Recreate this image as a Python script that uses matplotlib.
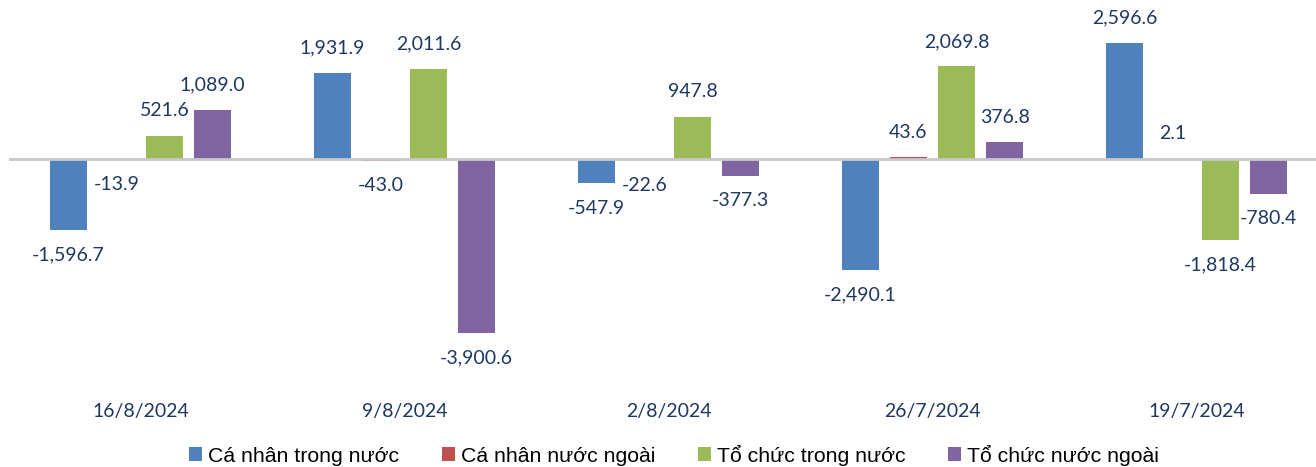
import matplotlib
matplotlib.use("Agg")
import matplotlib.pyplot as plt
import numpy as np

# Weekly net trading value by investor group
weeks = ["16/8/2024", "9/8/2024", "2/8/2024", "26/7/2024", "19/7/2024"]
series_names = ["Cá nhân trong nước", "Cá nhân nước ngoài",
                "Tổ chức trong nước", "Tổ chức nước ngoài"]
ca_nhan_trong_nuoc = [-1596.7, 1931.9, -547.9, -2490.1, 2596.6]
ca_nhan_nuoc_ngoai = [-13.9, -43.0, -22.6, 43.6, 2.1]
to_chuc_trong_nuoc = [521.6, 2011.6, 947.8, 2069.8, -1818.4]
to_chuc_nuoc_ngoai = [1089.0, -3900.6, -377.3, 376.8, -780.4]

colors = ["#4F81BD", "#C0504D", "#9BBB59", "#8064A2"]
label_color = "#1F3763"

fig = plt.figure(figsize=(13.16, 4.67), dpi=100)
# plot area slightly wider than the figure (right group is cut off in the original)
ax = fig.add_axes([8.5 / 1316, 1 - 385 / 467, 1320 / 1316, 385 / 467])

x = np.arange(len(weeks))
width = 0.14
step = 0.182
all_series = [ca_nhan_trong_nuoc, ca_nhan_nuoc_ngoai, to_chuc_trong_nuoc, to_chuc_nuoc_ngoai]

for i, vals in enumerate(all_series):
    pos = x + (i - 1.5) * step
    ax.bar(pos, vals, width, color=colors[i], label=series_names[i], zorder=2)
    for px, v in zip(pos, vals):
        off = 18 if v >= 0 else -18
        ax.annotate(f"{v:,.1f}", (px, v), xytext=(0, off), textcoords="offset points",
                    ha="center", va="center", fontsize=14, color=label_color,
                    family="Lato")

# zero line drawn over the bar bases
ax.axhline(0, color="#C8C8C8", lw=2, zorder=3)
ax.set_xlim(-0.5, len(weeks) - 0.5)
ax.set_ylim(-5056, 3557)
ax.set_yticks([])
ax.set_xticks([])
for s in ax.spines.values():
    s.set_visible(False)

for xi, w in zip(x, weeks):
    ax.annotate(w, (xi, -5056), xytext=(0, -19), textcoords="offset points",
                ha="center", va="center", fontsize=14, color=label_color,
                family="Lato")

fig.legend(loc="center", bbox_to_anchor=(674 / 1316, 1 - 455 / 467), ncol=4,
           frameon=False, handlelength=0.6, handleheight=0.6,
           handletextpad=0.3, columnspacing=2.0,
           prop={"family": "Liberation Sans", "size": 15.3})

fig.savefig("out.png", dpi=100)
